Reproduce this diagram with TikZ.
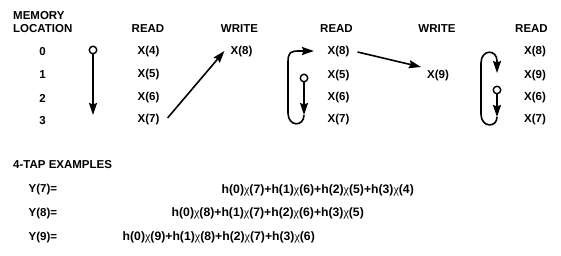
\documentclass[tikz,border=0pt]{standalone}
\usepackage{fontspec}
\setmainfont{Liberation Sans}
\newfontfamily\chifont{Liberation Serif}
\usetikzlibrary{arrows.meta,calc}
\newcommand{\cx}{{\chifont\mdseries χ}}
\tikzset{
  lbl/.style={font=\fontsize{11.5}{13}\selectfont\bfseries, inner sep=0pt},
  eqn/.style={font=\fontsize{12.2}{14}\selectfont\bfseries, inner sep=0pt, anchor=west},
  arr/.style={line width=1.6pt, -{Stealth[length=12pt,width=8pt,inset=1.5pt]}},
  circ/.style={circle, draw, line width=1.4pt, fill=white, minimum size=7.5pt, inner sep=0pt}
}
\begin{document}
\begin{tikzpicture}[x=1pt,y=-1pt]
\useasboundingbox[fill=white] (0,0) rectangle (561,255);
% headers
\node[lbl, anchor=west] (hm) at (13,15.5) {MEMORY};
\node[lbl, anchor=west] (hl) at (13,28.5) {LOCATION};
\node[lbl] (hr1) at (148,29) {READ};
\node[lbl] (hw1) at (239.5,29) {WRITE};
\node[lbl] (hr2) at (336.5,29) {READ};
\node[lbl] (hw2) at (437,29) {WRITE};
\node[lbl] (hr3) at (531.5,29) {READ};
% memory locations
\node[lbl] (m0) at (42.5,52) {0};
\node[lbl] (m1) at (42.5,75) {1};
\node[lbl] (m2) at (42.5,98) {2};
\node[lbl] (m3) at (42.5,121) {3};
% read column 1
\node[lbl] (a0) at (148.5,52) {X(4)};
\node[lbl] (a1) at (148.5,75) {X(5)};
\node[lbl] (a2) at (148.5,98) {X(6)};
\node[lbl] (a3) at (148.5,120) {X(7)};
% write 1
\node[lbl] (w1) at (241.5,52) {X(8)};
% read column 2
\node[lbl] (b0) at (338.5,52) {X(8)};
\node[lbl] (b1) at (338.5,76) {X(5)};
\node[lbl] (b2) at (338.5,98) {X(6)};
\node[lbl] (b3) at (338.5,120) {X(7)};
% write 2
\node[lbl] (w2) at (438,76) {X(9)};
% read column 3
\node[lbl] (d0) at (535,52) {X(8)};
\node[lbl] (d1) at (535,76) {X(9)};
\node[lbl] (d2) at (535,98) {X(6)};
\node[lbl] (d3) at (535,120) {X(7)};
% pointer 1
\node[circ] (c1) at (93,50) {};
\coordinate (t1) at (93,115);
\draw[arr] (c1) -- (t1);
% diagonal arrow to write 1
\draw[arr] ($(a3.east)+(8,-2)$) -- ($(w1.west)+(-6,-1)$);
% pointer 2 with loop
\node[circ] (c2) at (304,78) {};
\coordinate (t2) at (304,115);
\draw[arr] (c2) -- (t2);
\draw[arr] (t2) .. controls (304,127) and (288,127) .. (288,113) -- (288,62)
  .. controls (288,52) and (291,51) .. (299,51) -- (314,51);
% arrow to write 2
\draw[arr] ($(b0.east)+(8,0)$) -- ($(w2.west)+(-6,-9)$);
% pointer 3 with loop
\node[circ] (c3) at (497,90) {};
\coordinate (t3) at (497,117);
\draw[arr] (c3) -- (t3);
\draw[arr] (t3) .. controls (497,128) and (481,128) .. (481,114) -- (481,63)
  .. controls (481,49) and (497,49) .. (497,61) -- (497,73);
% examples
\node[lbl, anchor=west] (ex) at (13,165) {4-TAP EXAMPLES};
\node[lbl, anchor=west] (y7) at (28.5,190) {Y(7)=};
\node[lbl, anchor=west] (y8) at (28.5,213.5) {Y(8)=};
\node[lbl, anchor=west] (y9) at (28.5,237.5) {Y(9)=};
\node[eqn] (e7) at (221.5,190) {h(0)\cx(7)+h(1)\cx(6)+h(2)\cx(5)+h(3)\cx(4)};
\node[eqn] (e8) at (171.5,213.5) {h(0)\cx(8)+h(1)\cx(7)+h(2)\cx(6)+h(3)\cx(5)};
\node[eqn] (e9) at (122.5,237.5) {h(0)\cx(9)+h(1)\cx(8)+h(2)\cx(7)+h(3)\cx(6)};
\end{tikzpicture}
\end{document}
